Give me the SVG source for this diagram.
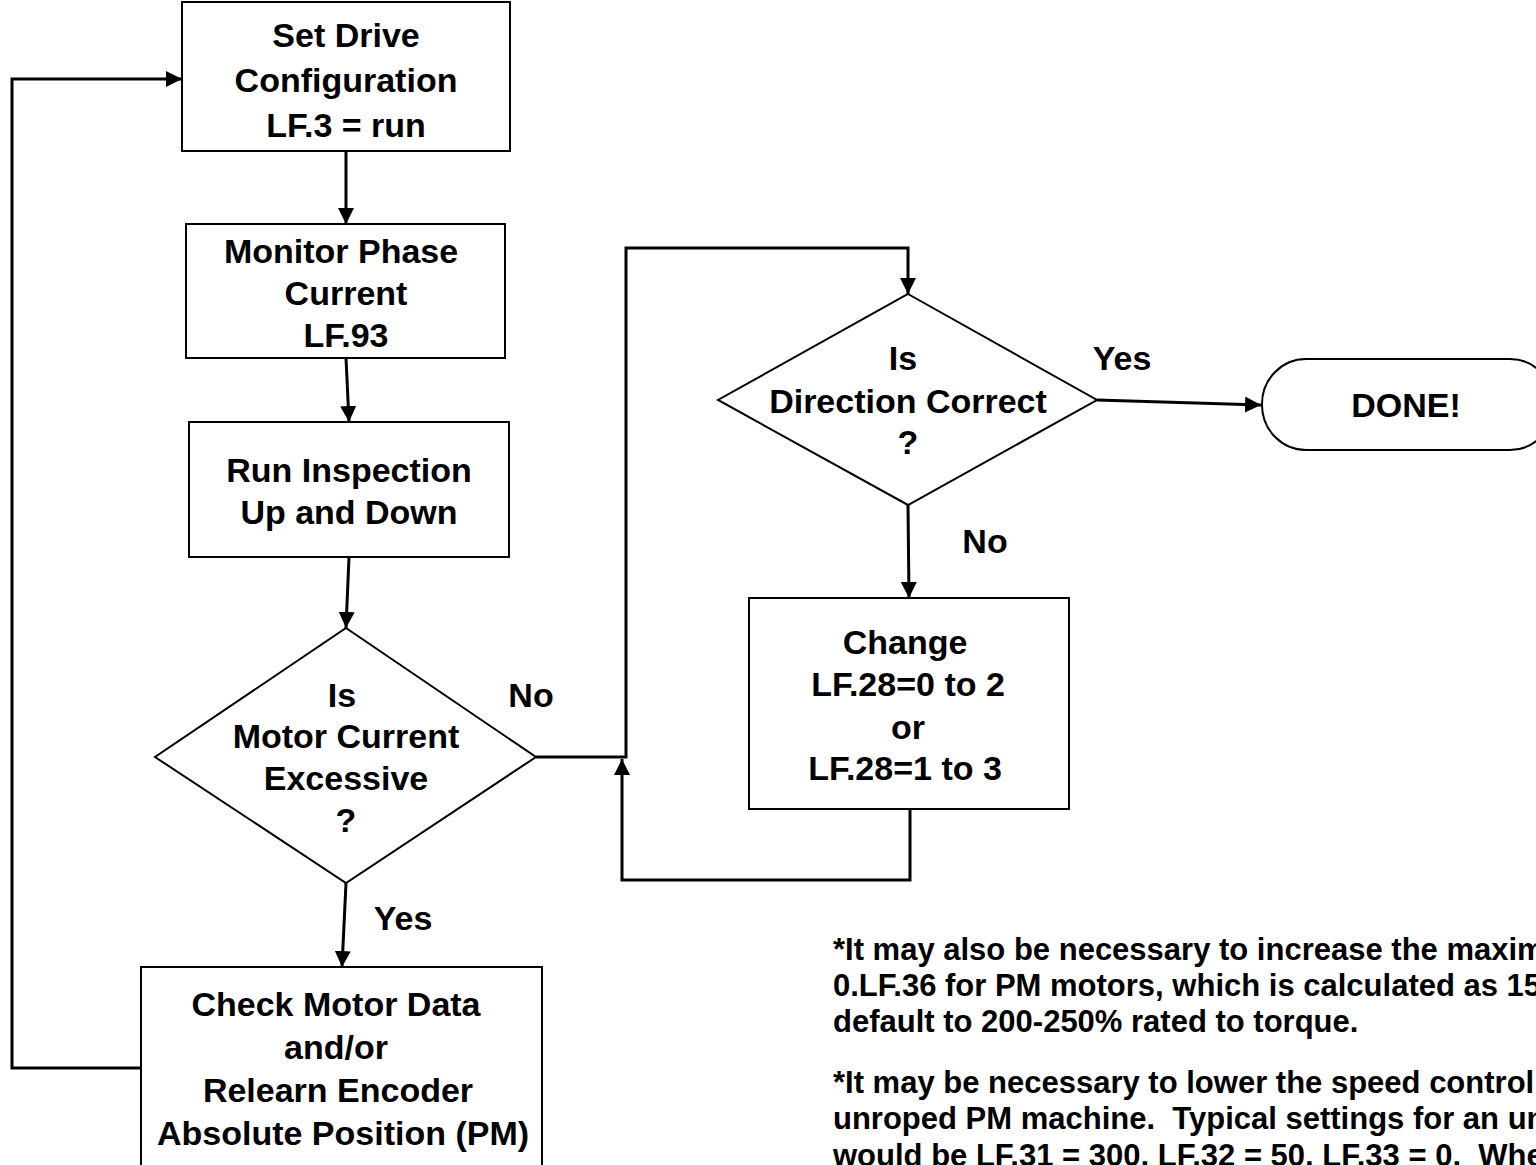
<svg xmlns="http://www.w3.org/2000/svg" width="1536" height="1165" viewBox="0 0 1536 1165">
  <style>
    .box { fill: #ffffff; stroke: #000000; stroke-width: 2; }
    .lbl { font-family: "Liberation Sans", Arial, sans-serif; font-weight: bold; font-size: 34px; fill: #000000; text-anchor: middle; }
    .note { font-family: "Liberation Sans", Arial, sans-serif; font-weight: bold; font-size: 31px; fill: #000000; }
    .wire { fill: none; stroke: #000000; stroke-width: 3; }
  </style>
  <defs>
    <marker id="arrow" viewBox="0 0 10 10" refX="10" refY="5" markerWidth="16" markerHeight="16" markerUnits="userSpaceOnUse" orient="auto">
      <path d="M0,0 L10,5 L0,10 Z" fill="#000000"/>
    </marker>
  </defs>
  <rect width="1536" height="1165" fill="#ffffff"/>

  <!-- connectors -->
  <g id="connectors">
    <line class="wire" x1="346" y1="151" x2="346" y2="224" marker-end="url(#arrow)"/>
    <line class="wire" x1="346" y1="358" x2="349" y2="422" marker-end="url(#arrow)"/>
    <line class="wire" x1="349" y1="557" x2="346" y2="628" marker-end="url(#arrow)"/>
    <line class="wire" x1="346" y1="883" x2="342" y2="967" marker-end="url(#arrow)"/>
    <polyline class="wire" points="141,1068 12,1068 12,79 182,79" marker-end="url(#arrow)"/>
    <polyline class="wire" points="536,757 626,757 626,248 908,248 908,294" marker-end="url(#arrow)"/>
    <line class="wire" x1="908" y1="505" x2="909" y2="598" marker-end="url(#arrow)"/>
    <polyline class="wire" points="910,809 910,880 622,880 622,759" marker-end="url(#arrow)"/>
    <line class="wire" stroke-width="2" x1="1097" y1="400" x2="1261" y2="405" marker-end="url(#arrow)"/>
  </g>

  <!-- process steps -->
  <g id="set-drive-config">
    <rect class="box" x="182" y="2" width="328" height="149"/>
    <text class="lbl" x="346" y="47">Set Drive</text>
    <text class="lbl" x="346" y="92">Configuration</text>
    <text class="lbl" x="346" y="137">LF.3 = run</text>
  </g>
  <g id="monitor-phase-current">
    <rect class="box" x="186" y="224" width="319" height="134"/>
    <text class="lbl" x="341" y="263">Monitor Phase</text>
    <text class="lbl" x="346" y="305">Current</text>
    <text class="lbl" x="346" y="347">LF.93</text>
  </g>
  <g id="run-inspection">
    <rect class="box" x="189" y="422" width="320" height="135"/>
    <text class="lbl" x="349" y="482">Run Inspection</text>
    <text class="lbl" x="349" y="524">Up and Down</text>
  </g>
  <g id="current-excessive">
    <polygon class="box" points="346,628 536,757 346,883 155,757"/>
    <text class="lbl" x="342" y="707">Is</text>
    <text class="lbl" x="346" y="748">Motor Current</text>
    <text class="lbl" x="346" y="790">Excessive</text>
    <text class="lbl" x="346" y="832">?</text>
  </g>
  <g id="check-motor-data">
    <rect class="box" x="141" y="967" width="401" height="210"/>
    <text class="lbl" x="336" y="1016">Check Motor Data</text>
    <text class="lbl" x="336" y="1059">and/or</text>
    <text class="lbl" x="338" y="1102">Relearn Encoder</text>
    <text class="lbl" x="343" y="1145">Absolute Position (PM)</text>
  </g>
  <g id="direction-correct">
    <polygon class="box" points="908,294 1097,400 908,505 718,400"/>
    <text class="lbl" x="903" y="370">Is</text>
    <text class="lbl" x="908" y="413">Direction Correct</text>
    <text class="lbl" x="908" y="454">?</text>
  </g>
  <g id="change-lf28">
    <rect class="box" x="749" y="598" width="320" height="211"/>
    <text class="lbl" x="905" y="654">Change</text>
    <text class="lbl" x="908" y="696">LF.28=0 to 2</text>
    <text class="lbl" x="908" y="739">or</text>
    <text class="lbl" x="905" y="780">LF.28=1 to 3</text>
  </g>
  <g id="done">
    <rect class="box" x="1262" y="359" width="292" height="91" rx="44" ry="45"/>
    <text class="lbl" x="1406" y="417">DONE!</text>
  </g>

  <!-- branch labels -->
  <g id="branch-labels">
    <text class="lbl" x="531" y="707">No</text>
    <text class="lbl" x="403" y="930">Yes</text>
    <text class="lbl" x="1122" y="370">Yes</text>
    <text class="lbl" x="985" y="553">No</text>
  </g>

  <!-- notes, running past the right and bottom edges -->
  <g id="notes">
    <text class="note" x="833" y="960">*It may also be necessary to increase the maxim</text>
    <text class="note" x="833" y="996">0.LF.36 for PM motors, which is calculated as 15</text>
    <text class="note" x="833" y="1032">default to 200-250% rated to torque.</text>
    <text class="note" x="833" y="1093">*It may be necessary to lower the speed control</text>
    <text class="note" x="833" y="1129">unroped PM machine.&#160; Typical settings for an un</text>
    <text class="note" x="833" y="1166">would be LF.31 = 300, LF.32 = 50, LF.33 = 0.&#160; Whe</text>
  </g>
</svg>
